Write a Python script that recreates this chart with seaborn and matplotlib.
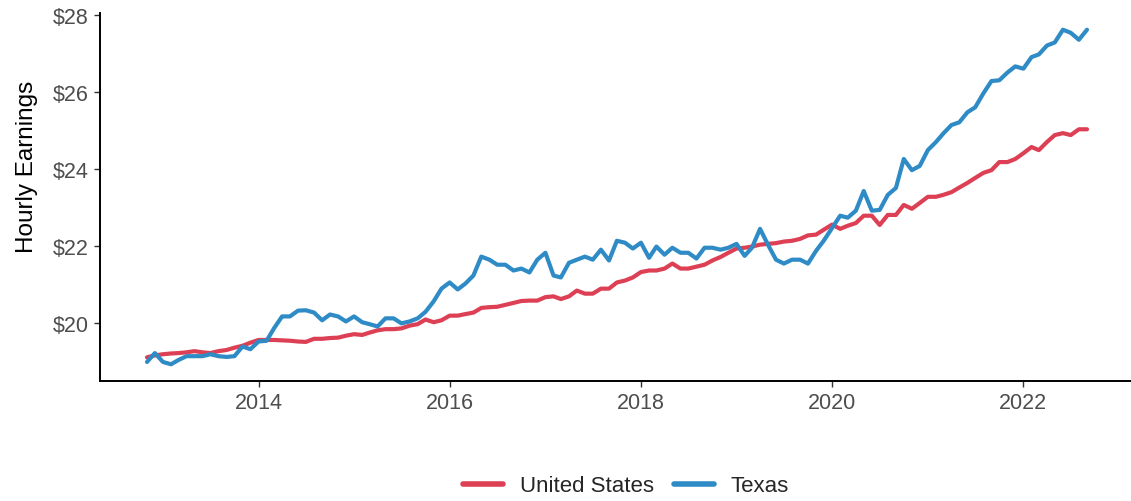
import pandas as pd
import matplotlib
matplotlib.use("Agg")
import matplotlib.pyplot as plt
import matplotlib.dates as mdates
import seaborn as sns

# === Data (monthly, Nov 2012 - Sep 2022) ===
start_month = "2012-11-01"

us_earnings = [
    19.12, 19.17, 19.20, 19.22, 19.23, 19.25, 19.28, 19.25, 19.23, 19.28, 19.31, 19.37,
    19.42, 19.50, 19.57, 19.57, 19.57, 19.56, 19.55, 19.53, 19.52, 19.60, 19.60, 19.62,
    19.63, 19.68, 19.72, 19.70, 19.76, 19.82, 19.85, 19.85, 19.87, 19.94, 19.98, 20.10,
    20.03, 20.08, 20.20, 20.20, 20.24, 20.28, 20.40, 20.42, 20.43, 20.48, 20.53, 20.58,
    20.59, 20.59, 20.68, 20.70, 20.63, 20.70, 20.85, 20.77, 20.77, 20.90, 20.90, 21.06,
    21.11, 21.19, 21.33, 21.37, 21.37, 21.42, 21.55, 21.42, 21.42, 21.47, 21.52, 21.63,
    21.72, 21.83, 21.94, 21.96, 21.99, 22.04, 22.06, 22.08, 22.12, 22.14, 22.19, 22.28,
    22.30, 22.43, 22.56, 22.45, 22.53, 22.60, 22.79, 22.79, 22.55, 22.81, 22.81, 23.07,
    22.97, 23.12, 23.28, 23.28, 23.33, 23.40, 23.52, 23.64, 23.77, 23.90, 23.97, 24.18,
    24.18, 24.26, 24.41, 24.57, 24.49, 24.70, 24.88, 24.93, 24.88, 25.03, 25.03,
]

tx_earnings = [
    19.00, 19.23, 19.00, 18.94, 19.05, 19.15, 19.15, 19.15, 19.20, 19.15, 19.13, 19.15,
    19.40, 19.33, 19.53, 19.55, 19.87, 20.18, 20.18, 20.33, 20.34, 20.28, 20.08, 20.23,
    20.18, 20.05, 20.18, 20.03, 19.98, 19.92, 20.13, 20.13, 20.00, 20.05, 20.13, 20.30,
    20.57, 20.90, 21.06, 20.88, 21.03, 21.24, 21.73, 21.65, 21.52, 21.52, 21.37, 21.42,
    21.32, 21.65, 21.83, 21.24, 21.19, 21.57, 21.65, 21.73, 21.65, 21.91, 21.63, 22.14,
    22.09, 21.94, 22.09, 21.70, 21.99, 21.78, 21.96, 21.83, 21.83, 21.68, 21.96, 21.96,
    21.91, 21.96, 22.06, 21.75, 21.96, 22.45, 22.04, 21.65, 21.55, 21.65, 21.65, 21.55,
    21.88, 22.15, 22.47, 22.79, 22.74, 22.92, 23.43, 22.92, 22.94, 23.33, 23.51, 24.26,
    23.97, 24.08, 24.49, 24.70, 24.92, 25.14, 25.21, 25.47, 25.60, 25.96, 26.28, 26.30,
    26.50, 26.66, 26.60, 26.90, 26.97, 27.20, 27.28, 27.61, 27.53, 27.35, 27.61,
]

series_names = ["United States", "Texas"]
series_colors = ["#DD4055", "#2E8BC6"]
y_ticks = [20, 22, 24, 26, 28]

dates = pd.date_range(start_month, periods=len(us_earnings), freq="MS")
df = pd.concat([
    pd.DataFrame({"date": dates, "earnings": us_earnings, "region": series_names[0]}),
    pd.DataFrame({"date": dates, "earnings": tx_earnings, "region": series_names[1]}),
])

# === Setup ===
sns.set_theme(style="white")
plt.rcParams["font.family"] = ["Liberation Sans", "DejaVu Sans"]

fig = plt.figure(figsize=(11.31, 5.02), dpi=100)
ax = fig.add_axes([100 / 1131, 1 - 382 / 502, 1034 / 1131, 368 / 502])

sns.lineplot(data=df, x="date", y="earnings", hue="region", hue_order=series_names,
             palette=series_colors, linewidth=3, ax=ax, legend=True)

# ggplot-style 5% expansion
x0, x1 = mdates.date2num(dates[0]), mdates.date2num(dates[-1])
pad = 0.05 * (x1 - x0)
ax.set_xlim(x0 - pad, x1 + pad)
ymin = min(min(us_earnings), min(tx_earnings))
ymax = max(max(us_earnings), max(tx_earnings))
ypad = 0.05 * (ymax - ymin)
ax.set_ylim(ymin - ypad, ymax + ypad)

ax.xaxis.set_major_locator(mdates.YearLocator(2))
ax.xaxis.set_major_formatter(mdates.DateFormatter("%Y"))
ax.set_yticks(y_ticks)
ax.set_yticklabels([f"${v}" for v in y_ticks])

ax.set_xlabel("")
ax.set_ylabel("Hourly Earnings", fontsize=17.5, color="black")
ax.yaxis.set_label_coords(-0.06, 0.585)

sns.despine(ax=ax)
for side in ["left", "bottom"]:
    ax.spines[side].set_color("black")
    ax.spines[side].set_linewidth(1.4)
ax.tick_params(axis="both", which="major", length=4, width=1, color="#333333",
               labelsize=15.5, labelcolor="#4D4D4D", pad=4, left=True, bottom=True)
ax.grid(False)

# legend at the bottom
handles, labels = ax.get_legend_handles_labels()
ax.get_legend().remove()
leg = fig.legend(handles, labels, loc="center", bbox_to_anchor=(626 / 1131, 1 - 487 / 502),
                 ncol=2, frameon=False, fontsize=16, handlelength=1.8,
                 handletextpad=0.75, columnspacing=0.9)
for line in leg.get_lines():
    line.set_linewidth(4)

fig.savefig("out.png", dpi=100)
plt.close()
